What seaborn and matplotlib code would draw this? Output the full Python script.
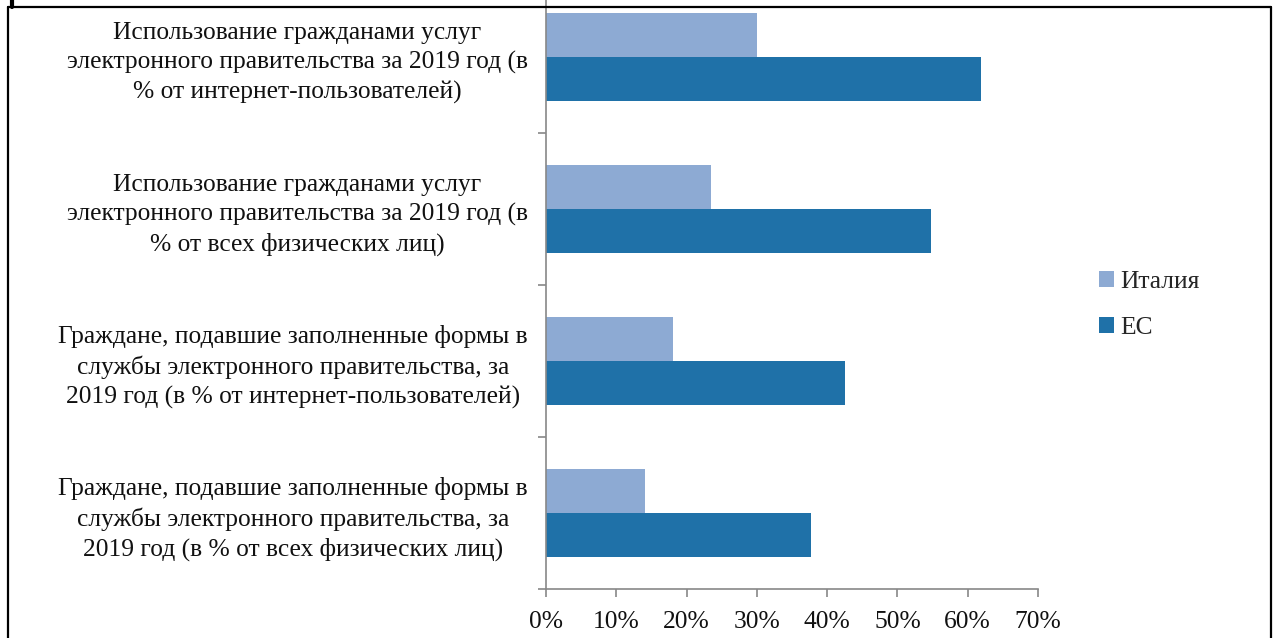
import pandas as pd
import seaborn as sns
import matplotlib.pyplot as plt
from matplotlib.lines import Line2D
from matplotlib.ticker import FuncFormatter, FixedLocator

# Categories (top to bottom) and series values, %
categories = [
    "Использование гражданами услуг\nэлектронного правительства за 2019 год (в\n% от интернет-пользователей)",
    "Использование гражданами услуг\nэлектронного правительства за 2019 год (в\n% от всех физических лиц)",
    "Граждане, подавшие заполненные формы в\nслужбы электронного правительства, за\n2019 год (в % от интернет-пользователей)",
    "Граждане, подавшие заполненные формы в\nслужбы электронного правительства, за\n2019 год (в % от всех физических лиц)",
]
series_names = ["Италия", "ЕС"]
italy = [30.0, 23.5, 18.0, 14.1]
eu = [61.9, 54.8, 42.6, 37.7]
x_ticks = [0, 10, 20, 30, 40, 50, 60, 70]

colors = ["#8DAAD3", "#1F71A8"]
axis_gray = "#888888"
FS = 18.4

df = pd.DataFrame({
    "category": categories * 2,
    "series": [series_names[0]] * 4 + [series_names[1]] * 4,
    "value": italy + eu,
})

sns.set_style("white")
plt.rcParams["font.family"] = ["Liberation Serif", "DejaVu Serif"]

W, H = 1282, 638
fig = plt.figure(figsize=(W / 100, H / 100), dpi=100)
ax_left, ax_right = 546, 1038
ax_bottom, ax_top = 589, -19
ax = fig.add_axes([ax_left / W, (H - ax_bottom) / H,
                   (ax_right - ax_left) / W, (ax_bottom - ax_top) / H])

sns.barplot(data=df, y="category", x="value", hue="series", order=categories,
            hue_order=series_names, palette=colors, width=0.58, orient="h",
            saturation=1, linewidth=0, ax=ax, legend=True)

ax.set_xlim(0, 70)
ax.set_ylim(3.5, -0.5)
ax.set_xticks(x_ticks)
ax.xaxis.set_major_formatter(FuncFormatter(lambda v, p: f"{int(v)}%"))
ax.set_xlabel("")
ax.set_ylabel("")

for side in ["top", "right"]:
    ax.spines[side].set_visible(False)
for side in ["left", "bottom"]:
    ax.spines[side].set_color(axis_gray)
    ax.spines[side].set_linewidth(1.2)

ax.tick_params(axis="x", which="major", length=6, width=1.2, color=axis_gray,
               direction="out", labelsize=FS, pad=10, bottom=True)
ax.tick_params(axis="y", which="major", length=0, labelsize=FS, pad=13, left=True)
ax.yaxis.set_minor_locator(FixedLocator([0.5, 1.5, 2.5, 3.5]))
ax.tick_params(axis="y", which="minor", length=6, width=1.2, color=axis_gray,
               direction="out", left=True)
for lbl in ax.get_yticklabels():
    lbl.set_multialignment("center")
    lbl.set_linespacing(1.38)
    lbl.set_color("#111111")
for lbl in ax.get_xticklabels():
    lbl.set_color("#111111")

ax.legend(loc="center left", bbox_to_anchor=(1099 / W, (H - 305) / H),
          bbox_transform=fig.transFigure, frameon=False, fontsize=FS,
          handlelength=0.6, handleheight=0.6, handletextpad=0.25,
          labelspacing=0.92, borderpad=0, borderaxespad=0)

# outer frame
fx = lambda px: px / W
fy = lambda py: (H - py) / H
fig.add_artist(Line2D([fx(8), fx(8)], [0, fy(7)], color="black", lw=1.6))
fig.add_artist(Line2D([fx(8), fx(1271)], [fy(7), fy(7)], color="black", lw=1.6))
fig.add_artist(Line2D([fx(1271), fx(1271)], [0, fy(7)], color="black", lw=1.6))
fig.add_artist(Line2D([fx(12), fx(12)], [fy(7), 1], color="black", lw=3))

fig.savefig("out.png", dpi=100, facecolor="white")
